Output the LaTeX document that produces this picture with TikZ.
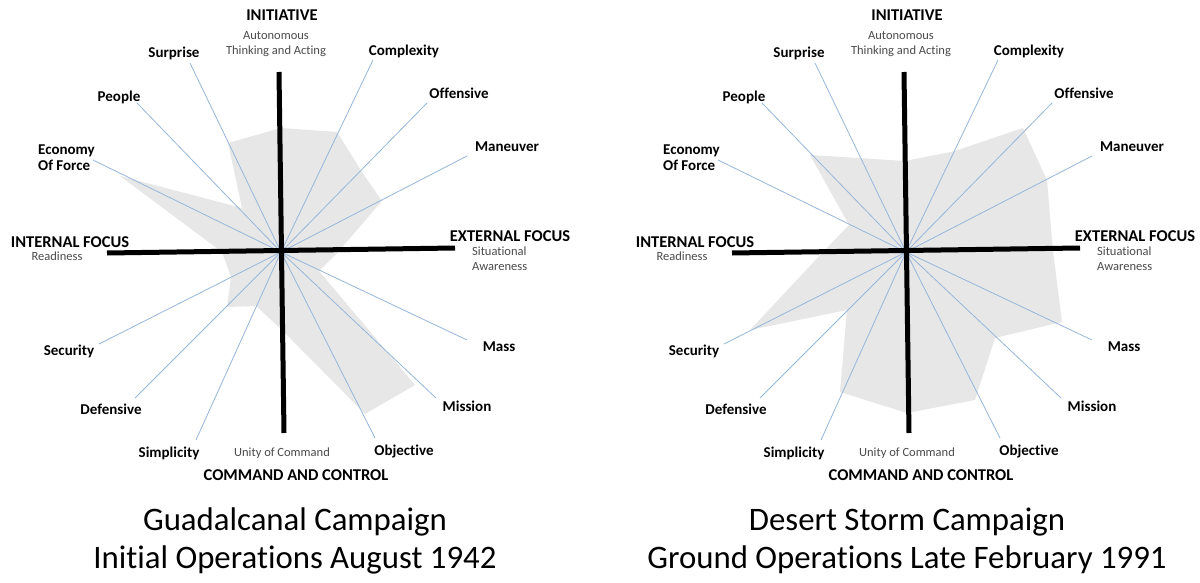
\documentclass[tikz,border=0pt]{standalone}
\usepackage{fontspec}
\setmainfont{Carlito}[Ligatures=NoCommon]
\definecolor{spokeblue}{RGB}{150,182,218}
\definecolor{areagray}{RGB}{231,231,231}
\definecolor{notegray}{RGB}{75,75,75}
\tikzset{
  lbl/.style={font=\fontsize{15}{15}\selectfont\bfseries, inner sep=0pt, text height=0.64em, text depth=0pt},
  head/.style={font=\fontsize{16.5}{16.5}\selectfont\bfseries, inner sep=0pt, text height=0.64em, text depth=0pt},
  note/.style={font=\fontsize{12.5}{12.5}\selectfont, text=notegray, inner sep=0pt, text height=0.64em, text depth=0pt},
  caption/.style={font=\fontsize{32.8}{32.8}\selectfont, inner sep=0pt, text height=0.64em, text depth=0pt},
  spokeline/.style={draw=spokeblue, line width=0.8pt},
  axisbar/.style={draw=black, line width=5pt},
  areafill/.style={fill=areagray}
}
\begin{document}
\begin{tikzpicture}[x=1pt, y=-1pt]
\useasboundingbox (0,0) rectangle (1200,583);
\fill[white] (0,0) rectangle (1200,583);

% profile areas
\fill[areafill] (281,128) -- (337,132) -- (362,172) -- (382,201) -- (338,252) -- (319,271)
  -- (415,385) -- (365,414) -- (282,330) -- (256,306) -- (227,307) -- (231,277)
  -- (222,252) -- (120,176) -- (242,208) -- (228,143) -- cycle;
\fill[areafill] (905,161) -- (955,151) -- (1023,128) -- (1047,180) -- (1053,251) -- (1062,322)
  -- (995,338) -- (975,400) -- (907,413) -- (840,392) -- (847,310) -- (750,330)
  -- (824,251) -- (849,225) -- (810,155) -- (858,158) -- cycle;

\foreach \ox/\p in {0/l, 625/r} {
\begin{scope}[xshift=\ox pt]
  % spokes of the principles
  \coordinate (\p-c) at (281,252);
  \foreach \ex/\ey [count=\i] in {190/63, 137/103, 93/160, 373/60, 427/103, 467/156,
                                  467/340, 436/398, 375/438, 196/440, 135/398, 99/344} {
    \coordinate (\p-s\i) at (\ex,\ey);
    \draw[spokeline] (\p-c) -- (\p-s\i);
  }
  % main axes
  \coordinate (\p-top) at (279,72);
  \coordinate (\p-bot) at (284,433);
  \coordinate (\p-west) at (107,253);
  \coordinate (\p-east) at (455,248);
  \draw[axisbar] (\p-top) -- (\p-bot);
  \draw[axisbar] (\p-west) -- (\p-east);

  % axis headings
  \node[head] (\p-init) at (282,17) {INITIATIVE};
  \node[note] (\p-auto1) at (276,36) {Autonomous};
  \node[note] (\p-auto2) at (276,51) {Thinking and Acting};
  \node[head] (\p-int) at (70,244) {INTERNAL FOCUS};
  \node[note] (\p-ready) at (57,257) {Readiness};
  \node[head] (\p-ext) at (510,238) {EXTERNAL FOCUS};
  \node[note, anchor=west] (\p-sit1) at (472,252) {Situational};
  \node[note, anchor=west] (\p-sit2) at (472,267) {Awareness};
  \node[note] (\p-unity) at (282,453) {Unity of Command};
  \node[head] (\p-cc) at (296,477) {COMMAND AND CONTROL};

  % principles
  \node[lbl] (\p-surprise) at (174,54) {Surprise};
  \node[lbl] (\p-complex) at (404,52) {Complexity};
  \node[lbl] (\p-people) at (119,98) {People};
  \node[lbl] (\p-offense) at (459,95) {Offensive};
  \node[lbl, anchor=west] (\p-econ1) at (38,151) {Economy};
  \node[lbl, anchor=west] (\p-econ2) at (38,167) {Of Force};
  \node[lbl] (\p-maneuver) at (507,148) {Maneuver};
  \node[lbl] (\p-security) at (69,352) {Security};
  \node[lbl] (\p-mass) at (499,348) {Mass};
  \node[lbl] (\p-defense) at (111,411) {Defensive};
  \node[lbl] (\p-mission) at (467,408) {Mission};
  \node[lbl] (\p-simple) at (169,454) {Simplicity};
  \node[lbl] (\p-object) at (404,452) {Objective};
\end{scope}
}

% captions
\node[caption] (lt1) at (295,527) {Guadalcanal Campaign};
\node[caption] (lt2) at (295,565) {Initial Operations August 1942};
\node[caption] (rt1) at (907,527) {Desert Storm Campaign};
\node[caption] (rt2) at (907,565) {Ground Operations Late February 1991};
\end{tikzpicture}
\end{document}
